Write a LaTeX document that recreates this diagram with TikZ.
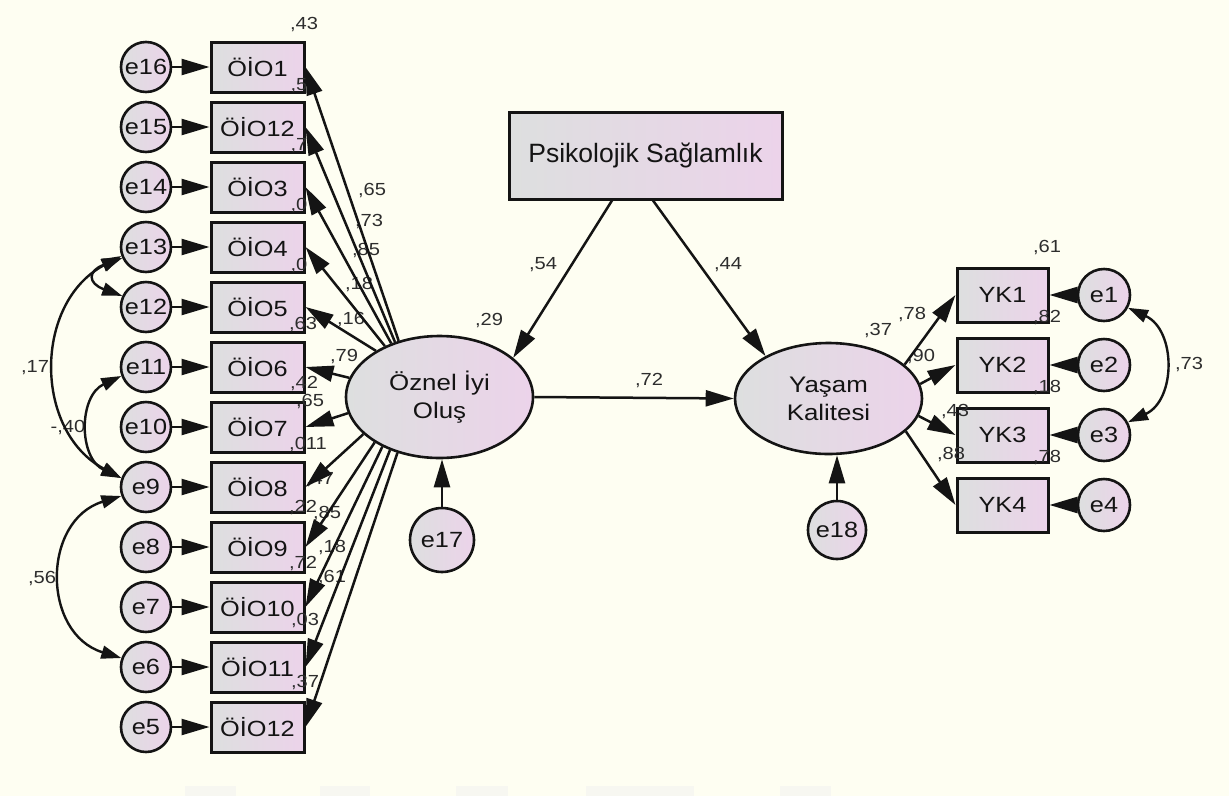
\documentclass[tikz,border=0pt]{standalone}
\usepackage{fontspec}
\setmainfont{Liberation Sans}
\newfontfamily\labfont[FakeStretch=1.15]{Liberation Sans}
\usetikzlibrary{shapes.geometric,arrows.meta}
\definecolor{bg}{RGB}{254,254,242}
\definecolor{gA}{RGB}{221,223,223}
\definecolor{gB}{RGB}{236,211,234}
\definecolor{ink}{RGB}{20,20,20}
\definecolor{numc}{RGB}{45,45,45}
\definecolor{faint}{RGB}{247,247,241}
\newcommand\mynodefont{\labfont\fontsize{22}{24}\selectfont}
\newcommand\mynumfont{\labfont\fontsize{17.5}{19}\selectfont}
\newcommand\mylatfont{\labfont\fontsize{22.5}{28}\selectfont}
\newcommand\mypsfont{\fontsize{26.5}{30}\selectfont}
\begin{document}
\begin{tikzpicture}[x=1pt,y=-1pt,
  obs/.style={draw=ink, line width=3pt, left color=gA, right color=gB, minimum width=93pt, minimum height=50pt, inner sep=0pt, text=ink, font=\mynodefont},
  err/.style={circle, draw=ink, line width=2.6pt, left color=gA, right color=gB, minimum size=50pt, inner sep=0pt, text=ink, font=\mynodefont},
  lat/.style={ellipse, draw=ink, line width=2.6pt, left color=gA, right color=gB, minimum width=187pt, inner sep=0pt, align=center, text=ink, font=\mylatfont},
  arr/.style={-{Triangle[length=28pt,width=16pt]}, line width=2.5pt, draw=ink},
  corr/.style={{Triangle[length=20pt,width=13pt]}-{Triangle[length=20pt,width=13pt]}, line width=2.4pt, draw=ink},
  lbl/.style={font=\mynumfont, text=numc, inner sep=0pt}
]
\fill[bg] (0,0) rectangle (1229,796);
\useasboundingbox (0,0) rectangle (1229,796);
% faint bars at the bottom
\fill[faint] (185,786) rectangle (236,796);
\fill[faint] (320,786) rectangle (370,796);
\fill[faint] (456,786) rectangle (508,796);
\fill[faint] (586,786) rectangle (694,796);
\fill[faint] (780,786) rectangle (831,796);

% left indicators and errors
\foreach \i/\t/\e in {1/ÖİO1/e16, 2/ÖİO12/e15, 3/ÖİO3/e14, 4/ÖİO4/e13, 5/ÖİO5/e12, 6/ÖİO6/e11, 7/ÖİO7/e10, 8/ÖİO8/e9, 9/ÖİO9/e8, 10/ÖİO10/e7, 11/ÖİO11/e6, 12/ÖİO12/e5} {
  \node[obs] (o\i) at (257.5, {7+60*\i}) {\t};
  \node[err] (\e) at (146, {7+60*\i}) {\e};
}
% latent variables
\node[lat, minimum height=122pt] (oz) at (439.5,397) {Öznel İyi\\Oluş};
\node[lat, minimum height=111pt] (yas) at (828.5,398.5) {Yaşam\\Kalitesi};
\node[err, minimum size=64pt] (e17) at (442,540) {e17};
\node[err, minimum size=58pt] (e18) at (837,530) {e18};
\node[obs, minimum width=273pt, minimum height=87pt, font=\mypsfont] (ps) at (645.5,155.5) {Psikolojik Sağlamlık};
\path (ps.south) ++(-33.5,0) coordinate (psl);
\path (ps.south) ++(7.5,0) coordinate (psr);
% right indicators
\foreach \i/\y in {1/295,2/365,3/435,4/505} {
  \node[obs, minimum width=91pt, minimum height=54pt] (yk\i) at (1002.5,\y) {YK\i};
  \node[err, minimum size=52pt] (e\i) at (1104,\y) {e\i};
}

% labels
\foreach \n/\x/\y/\t in {
 a1/304/25/{,43}, a2/299/86/{,5}, a3/299/146/{,7}, a4/299/206/{,0}, a5/299/266/{,0},
 a6/303/325/{,63}, a7/304/384/{,42}, a8/310/402/{,65}, a9/308/445/{,011}, a10/320/480/{,47},
 a11/303/507/{,22}, a12/327/513/{,85}, a13/332/547/{,18}, a14/303/563/{,72}, a15/332/577/{,61},
 a16/305/620/{,03}, a17/305/682/{,37}, a18/372/191/{,65}, a19/369/222/{,73}, a20/366/251/{,85},
 a21/359/285/{,18}, a22/351/320/{,16}, a23/344/357/{,79},
 b1/489/321/{,29}, b2/543/265/{,54}, b3/728/265/{,44}, b4/649/381/{,72},
 c1/35/368/{,17}, c2/68/428/{-,40}, c3/42/578/{,56}, c4/1189/365/{,73},
 d1/1047/248/{,61}, d2/1047/318/{,82}, d3/1047/388/{,18}, d4/1047/458/{,78},
 d5/878/331/{,37}, d6/912/315/{,78}, d7/921/357/{,90}, d8/955/412/{,43}, d9/951/455/{,88}}
 \node[lbl] (\n) at (\x,\y) {\t};

% error -> indicator arrows (left)
\foreach \i/\e in {1/e16,2/e15,3/e14,4/e13,5/e12,6/e11,7/e10,8/e9,9/e8,10/e7,11/e6,12/e5}
  \draw[arr] (\e) -- (o\i);
% loadings fan
\foreach \i/\a in {1/126,2/129,3/132,4/137,5/144,6/168,7/190,8/206,9/215,10/221,11/227,12/233}
  \draw[arr] (oz.\a) -- (o\i.east);
% structural paths
\draw[arr] (psl) -- (oz.28);
\draw[arr] (psr) -- (yas.146);
\draw[arr] (oz.east) -- (yas.west);
\draw[arr] (e17) -- (e17 |- oz.south);
\draw[arr] (e18) -- (e18 |- yas.south);
% right loadings
\foreach \i/\a in {1/24,2/9,3/349,4/337}
  \draw[arr] (yas.\a) -- (yk\i.west);
\foreach \i in {1,2,3,4}
  \draw[arr] (e\i) -- (yk\i);
% covariances
\draw[corr] (e13.200) to[out=208,in=152,looseness=1.15] (e9.160);
\draw[corr] (e11.200) to[out=205,in=155,looseness=1.19] (e9.160);
\draw[corr] (e9.200) to[out=197,in=163,looseness=1.32] (e6.160);
\draw[corr] (e13.205) to[out=200,in=160,looseness=2.5] (e12.155);
\draw[corr] (e1.-28) to[out=-25,in=25,looseness=1.19] (e3.28);
\end{tikzpicture}
\end{document}
